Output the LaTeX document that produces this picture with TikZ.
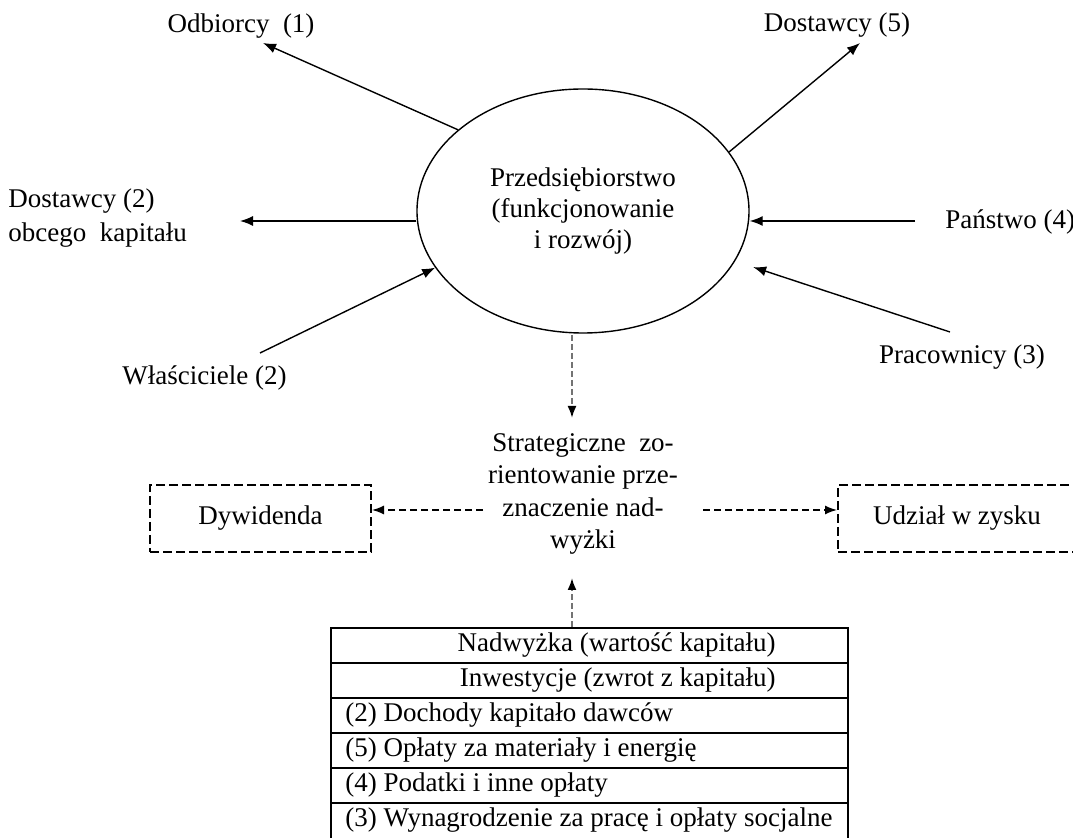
\documentclass[tikz,border=0pt]{standalone}
\usepackage{fontspec}
\setmainfont{Liberation Serif}
\usetikzlibrary{arrows.meta,shapes.geometric}
\begin{document}
\begin{tikzpicture}[x=0.5pt,y=-0.5pt,
  lbl/.style={inner sep=0pt, font=\fontsize{13.5}{16}\selectfont},
  arr/.style={-{Latex[length=6.5pt,width=5pt]}, line width=0.7pt},
  darr/.style={-{Latex[length=6pt,width=4.5pt]}, line width=0.7pt, dash pattern=on 3.5pt off 2pt},
  garr/.style={-{Latex[length=6pt,width=4.5pt,color=black]}, draw=black!55, line width=1pt, dash pattern=on 3pt off 1.5pt},
  dbox/.style={draw, line width=1pt, dash pattern=on 4.5pt off 2pt, inner sep=0pt, font=\fontsize{13.5}{16}\selectfont},
  row/.style={draw, line width=1pt, inner sep=0pt, minimum width=258.5pt, minimum height=17.5pt},
  rowtxt/.style={inner sep=0pt, font=\fontsize{13.5}{16}\selectfont}
]
\useasboundingbox (0,0) rectangle (1073,838);

% central ellipse
\node[ellipse, draw, line width=0.7pt, minimum width=166pt, minimum height=122pt,
      inner sep=0pt, align=center, font=\fontsize{13.5}{15.5}\selectfont] (firm) at (583,211)
      {Przedsiębiorstwo\\(funkcjonowanie\\i rozwój)};

% stakeholders
\node[lbl] (odb) at (241,26) {Odbiorcy\ \ (1)};
\node[lbl] (dos5) at (837,25) {Dostawcy (5)};
\node[lbl, anchor=west, align=left, font=\fontsize{13.5}{17}\selectfont] (dos2) at (8,218)
      {Dostawcy (2)\\obcego\ \ kapitału};
\node[lbl, anchor=west] (pan) at (945,222) {Państwo (4)};
\node[lbl] (prac) at (962,357) {Pracownicy (3)};
\node[lbl, anchor=east] (wl) at (287,378) {Właściciele (2)};

% arrow end points
\coordinate (odTip) at (263,43);
\coordinate (d5Tip) at (860,43);
\coordinate (d2Tip) at (240,221);
\coordinate (p4Tail) at (915,221);
\coordinate (prTail) at (950,332);
\coordinate (wlTail) at (260,353);

\draw[arr] (firm.147) -- (odTip);
\draw[arr] (firm.22) -- (d5Tip);
\draw[arr] (firm.west |- d2Tip) -- (d2Tip);
\draw[arr] (p4Tail) -- (firm.east |- p4Tail);
\draw[arr, shorten >=9.5pt] (prTail) -- (firm);
\draw[arr] (wlTail) -- (firm.201);

% strategic orientation
\node[lbl, align=center, font=\fontsize{13.5}{16.3}\selectfont] (strat) at (583,494)
      {Strategiczne\ \ zo-\\rientowanie prze-\\znaczenie nad-\\wyżki};

\node[dbox, minimum width=110.5pt, minimum height=33.5pt] (dyw) at (260.5,518.5) {Dywidenda};
\node[dbox, minimum width=119pt, minimum height=33.5pt] (udz) at (957,518.5) {Udział w zysku};

\coordinate (sl) at (483,510);
\coordinate (sr) at (703,510);
\draw[darr] (sl) -- (sl -| dyw.east);
\draw[darr] (sr) -- (sr -| udz.west);

\coordinate (vdTop) at (572,335);
\coordinate (vdTip) at (572,418);
\coordinate (vuTip) at (572,578);
\draw[garr] (vdTop) -- (vdTip);

% table
\node[row] (r1) at (589.5,645.5) {};
\node[row] (r2) at (589.5,680.5) {};
\node[row] (r3) at (589.5,715.5) {};
\node[row] (r4) at (589.5,750.5) {};
\node[row] (r5) at (589.5,785.5) {};
\node[row, minimum height=19.5pt] (r6) at (589.5,822.5) {};

\node[rowtxt, anchor=east] (t1) at (776,645) {Nadwyżka (wartość kapitału)};
\node[rowtxt, anchor=east] (t2) at (776,680) {Inwestycje (zwrot z kapitału)};
\node[rowtxt, anchor=west] (t3) at (345,715) {(2) Dochody kapitało dawców};
\node[rowtxt, anchor=west] (t4) at (345,750) {(5) Opłaty za materiały i energię};
\node[rowtxt, anchor=west] (t5) at (345,785) {(4) Podatki i inne opłaty};
\node[rowtxt, anchor=west] (t6) at (345,820) {(3) Wynagrodzenie za pracę i opłaty socjalne};

\draw[garr] (vuTip |- r1.north) -- (vuTip);
\end{tikzpicture}
\end{document}
